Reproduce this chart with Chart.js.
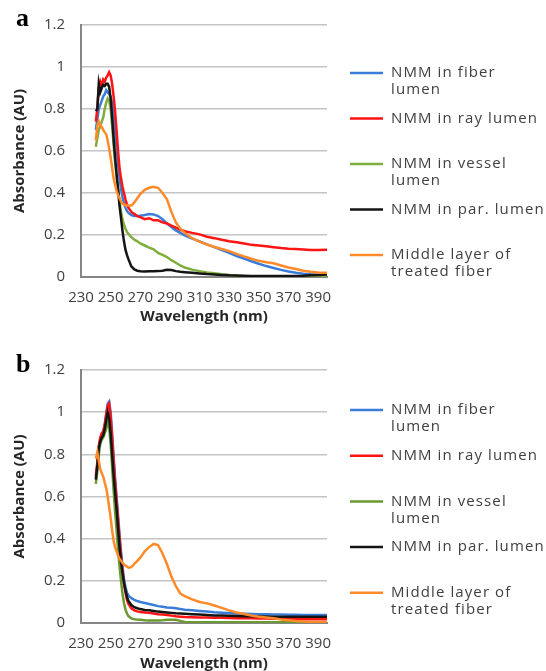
<!DOCTYPE html>
<html>
<head>
<meta charset="utf-8">
<script src="https://cdn.jsdelivr.net/npm/chart.js@4.4.1/dist/chart.umd.min.js"></script>
<style>
html, body { margin: 0; padding: 0; background: #fff; overflow: hidden; }
#wrapA { position: absolute; left: 0; top: 0; width: 546px; height: 335px; }
#wrapB { position: absolute; left: 0; top: 345px; width: 546px; height: 337px; }
</style>
</head>
<body>
<div id="wrapA"><canvas id="chartA"></canvas></div>
<div id="wrapB"><canvas id="chartB"></canvas></div>
<script>
const wavelength = [240, 241, 242, 243, 244, 245, 246, 247, 248, 249, 250, 251, 252, 253, 254, 255, 256, 257, 258, 259, 260, 261, 262,
    264, 266, 268, 270,
    273, 276, 279, 282, 285, 288, 291, 294, 297, 300,
    305, 310, 315, 320, 325, 330, 335, 340, 345, 350, 355, 360, 365, 370, 375, 380, 385, 390,
    396]
const xTicks = [230, 250, 270, 290, 310, 330, 350, 370, 390]
const yTicks = [0, 0.2, 0.4, 0.6, 0.8, 1, 1.2]

const seriesNames = ['NMM in fiber lumen', 'NMM in ray lumen', 'NMM in vessel lumen', 'NMM in par. lumen', 'Middle layer of treated fiber']
const legendLines = [['NMM in fiber', 'lumen'], ['NMM in ray lumen'], ['NMM in vessel', 'lumen'], ['NMM in par. lumen'], ['Middle layer of', 'treated fiber']]

// panel a
const fiberA = [0.70, 0.75, 0.80, 0.82, 0.84, 0.86, 0.87, 0.89, 0.88, 0.87, 0.86, 0.83, 0.77, 0.70, 0.62, 0.54, 0.47, 0.42, 0.38, 0.35, 0.33, 0.315, 0.305,
    0.295, 0.29, 0.29, 0.292,
    0.295, 0.30, 0.298, 0.29, 0.275, 0.255, 0.238, 0.222, 0.21, 0.198,
    0.183, 0.17, 0.155, 0.142, 0.128, 0.115, 0.10, 0.088, 0.075, 0.063, 0.052, 0.043, 0.034, 0.026, 0.02, 0.016, 0.013, 0.011,
    0.01]
const rayA = [0.74, 0.80, 0.90, 0.93, 0.91, 0.94, 0.93, 0.95, 0.96, 0.975, 0.96, 0.92, 0.86, 0.79, 0.70, 0.60, 0.52, 0.47, 0.43, 0.40, 0.37, 0.345, 0.33,
    0.31, 0.30, 0.29, 0.285,
    0.275, 0.28, 0.27, 0.27, 0.26, 0.255, 0.245, 0.235, 0.225, 0.218,
    0.21, 0.203, 0.192, 0.185, 0.177, 0.17, 0.165, 0.16, 0.153, 0.15, 0.146, 0.142, 0.138, 0.135, 0.133, 0.131, 0.129, 0.128,
    0.13]
const vesselA = [0.62, 0.66, 0.70, 0.72, 0.74, 0.76, 0.80, 0.83, 0.85, 0.84, 0.80, 0.72, 0.63, 0.55, 0.48, 0.42, 0.36, 0.31, 0.275, 0.25, 0.23, 0.215, 0.205,
    0.19, 0.178, 0.17, 0.16,
    0.15, 0.14, 0.132, 0.115, 0.105, 0.095, 0.08, 0.068, 0.055, 0.045,
    0.035, 0.028, 0.022, 0.018, 0.013, 0.01, 0.006, 0.004, 0.003, 0.003, 0.003, 0.003, 0.003, 0.003, 0.003, 0.003, 0.003, 0.003,
    0.003]
const parA = [0.79, 0.80, 0.92, 0.88, 0.90, 0.915, 0.91, 0.92, 0.92, 0.905, 0.85, 0.76, 0.66, 0.57, 0.49, 0.42, 0.34, 0.28, 0.22, 0.17, 0.13, 0.105, 0.085,
    0.05, 0.036, 0.03, 0.027,
    0.026, 0.027, 0.027, 0.028, 0.03, 0.034, 0.033, 0.028, 0.025, 0.023,
    0.02, 0.017, 0.014, 0.012, 0.01, 0.008, 0.007, 0.006, 0.005, 0.005, 0.005, 0.005, 0.005, 0.005, 0.005, 0.006, 0.008, 0.01,
    0.012]
const middleA = [0.65, 0.72, 0.74, 0.72, 0.715, 0.70, 0.69, 0.68, 0.65, 0.61, 0.57, 0.52, 0.47, 0.44, 0.41, 0.39, 0.375, 0.36, 0.35, 0.345, 0.34, 0.34, 0.34,
    0.34, 0.355, 0.375, 0.395,
    0.415, 0.425, 0.43, 0.425, 0.40, 0.37, 0.31, 0.26, 0.23, 0.21,
    0.185, 0.168, 0.155, 0.143, 0.133, 0.123, 0.11, 0.098, 0.087, 0.077, 0.07, 0.065, 0.055, 0.045, 0.038, 0.03, 0.025, 0.021,
    0.02]

// panel b
const fiberB = [0.69, 0.75, 0.83, 0.87, 0.89, 0.90, 0.94, 0.99, 1.04, 1.05, 1.0, 0.90, 0.79, 0.69, 0.60, 0.51, 0.42, 0.34, 0.27, 0.21, 0.17, 0.145, 0.13,
    0.118, 0.11, 0.104, 0.10,
    0.095, 0.09, 0.085, 0.08, 0.077, 0.074, 0.072, 0.07, 0.066, 0.063,
    0.06, 0.057, 0.054, 0.051, 0.049, 0.047, 0.045, 0.044, 0.043, 0.042, 0.041, 0.04, 0.04, 0.039, 0.039, 0.038, 0.038, 0.038,
    0.038]
const rayB = [0.70, 0.76, 0.84, 0.88, 0.90, 0.91, 0.94, 0.99, 1.03, 1.04, 0.98, 0.88, 0.77, 0.67, 0.58, 0.49, 0.40, 0.32, 0.25, 0.19, 0.145, 0.11, 0.09,
    0.07, 0.06, 0.055, 0.052,
    0.05, 0.048, 0.045, 0.042, 0.04, 0.038, 0.035, 0.032, 0.03, 0.028,
    0.027, 0.026, 0.026, 0.025, 0.025, 0.024, 0.023, 0.022, 0.022, 0.021, 0.021, 0.02, 0.02, 0.019, 0.019, 0.018, 0.018, 0.018,
    0.018]
const vesselB = [0.66, 0.72, 0.80, 0.85, 0.87, 0.88, 0.90, 0.92, 0.95, 0.93, 0.85, 0.74, 0.63, 0.53, 0.44, 0.35, 0.27, 0.20, 0.14, 0.095, 0.065, 0.045, 0.033,
    0.022, 0.018, 0.016, 0.015,
    0.013, 0.012, 0.012, 0.012, 0.013, 0.015, 0.016, 0.015, 0.01, 0.005,
    0.003, 0.003, 0.003, 0.003, 0.003, 0.003, 0.003, 0.003, 0.003, 0.003, 0.003, 0.003, 0.003, 0.003, 0.003, 0.003, 0.003, 0.003,
    0.003]
const parB = [0.68, 0.74, 0.83, 0.86, 0.88, 0.89, 0.92, 0.96, 1.0, 0.97, 0.90, 0.80, 0.70, 0.62, 0.54, 0.45, 0.36, 0.29, 0.235, 0.19, 0.155, 0.125, 0.105,
    0.085, 0.075, 0.07, 0.066,
    0.062, 0.06, 0.057, 0.054, 0.052, 0.05, 0.048, 0.046, 0.045, 0.044,
    0.042, 0.04, 0.038, 0.036, 0.035, 0.034, 0.033, 0.032, 0.032, 0.031, 0.031, 0.03, 0.03, 0.03, 0.03, 0.03, 0.03, 0.03,
    0.03]
const middleB = [0.78, 0.81, 0.77, 0.73, 0.71, 0.695, 0.665, 0.64, 0.60, 0.55, 0.50, 0.44, 0.39, 0.36, 0.34, 0.32, 0.305, 0.295, 0.285, 0.278, 0.272, 0.268, 0.262,
    0.265, 0.28, 0.295, 0.31,
    0.34, 0.36, 0.375, 0.37, 0.33, 0.28, 0.22, 0.175, 0.14, 0.128,
    0.112, 0.10, 0.093, 0.083, 0.072, 0.06, 0.05, 0.043, 0.036, 0.03, 0.026, 0.022, 0.017, 0.013, 0.009, 0.007, 0.005, 0.005,
    0.005]

Chart.defaults.font.family = "'Open Sans', sans-serif"

const sideLegend = {
    id: 'sideLegend',
    afterDraw(chart, args, opts) {
        const ctx = chart.ctx
        ctx.save()
        ctx.textBaseline = 'middle'
        chart.data.datasets.forEach((ds, i) => {
            const y = opts.top + i * opts.step
            ctx.strokeStyle = ds.borderColor
            ctx.lineWidth = 2.5
            ctx.beginPath()
            ctx.moveTo(350, y)
            ctx.lineTo(383, y)
            ctx.stroke()
            ctx.fillStyle = '#404040'
            ctx.font = "15px 'Open Sans'"
            ctx.letterSpacing = '1.1px'
            legendLines[i].forEach((t, k) => ctx.fillText(t, 391, y + k * 17))
        })
        ctx.letterSpacing = '0px'
        ctx.fillStyle = '#000'
        ctx.font = "bold 26px 'Liberation Serif'"
        ctx.fillText(opts.letter, 16, opts.letterY)
        ctx.restore()
    }
}

const makeChart = (id, values, colors, cfg) => {
    const ctx = document.getElementById(id).getContext('2d')
    return new Chart(ctx, {
        type: 'line',
        data: {
            datasets: values.map((v, i) => ({
                label: seriesNames[i],
                data: v.map((y, k) => ({ x: wavelength[k], y: y })),
                borderColor: colors[i],
                borderWidth: 2.5,
                pointRadius: 0,
                tension: 0,
                fill: false,
                order: values.length - i
            }))
        },
        options: {
            responsive: true,
            maintainAspectRatio: false,
            animation: false,
            layout: { padding: { left: 0, right: 219, top: 19, bottom: 0 } },
            plugins: {
                legend: { display: false },
                tooltip: { enabled: false },
                sideLegend: { top: cfg.legendTop, step: cfg.legendStep, letter: cfg.letter, letterY: cfg.letterY }
            },
            scales: {
                x: {
                    type: 'linear',
                    min: 230,
                    max: 396,
                    afterBuildTicks: (scale) => { scale.ticks = xTicks.map(v => ({ value: v })) },
                    afterFit: (scale) => { scale.height = cfg.xHeight },
                    grid: { display: false },
                    border: { display: true, color: '#868686', width: 2 },
                    ticks: { autoSkip: false, maxRotation: 0, padding: 4, color: '#404040', font: { size: 15 } },
                    title: { display: true, text: 'Wavelength (nm)', color: '#262626', font: { size: 15, weight: 'bold' }, padding: { top: 0, bottom: 9 } }
                },
                y: {
                    min: 0,
                    max: 1.2,
                    afterBuildTicks: (scale) => { scale.ticks = yTicks.map(v => ({ value: v })) },
                    afterFit: (scale) => { scale.width = 81 },
                    grid: { color: '#c4c4c4', lineWidth: 1.5, drawTicks: false },
                    border: { display: true, color: '#868686', width: 2 },
                    ticks: { padding: 16, color: '#404040', font: { size: 15 }, callback: (v) => String(parseFloat(v.toFixed(1))) },
                    title: { display: true, text: 'Absorbance (AU)', color: '#262626', font: { size: 15, weight: 'bold' }, padding: { top: 11, bottom: 0 } }
                }
            }
        },
        plugins: [sideLegend]
    })
}

makeChart('chartA', [fiberA, rayA, vesselA, parA, middleA],
    ['#3a7dd8', '#ff1414', '#80ae3c', '#141414', '#ff8a2a'],
    { xHeight: 58, legendTop: 73, legendStep: 45.5, letter: 'a', letterY: 19 })

makeChart('chartB', [fiberB, rayB, vesselB, parB, middleB],
    ['#3a7dd8', '#ff1414', '#6a9a30', '#141414', '#ff8a2a'],
    { xHeight: 59, legendTop: 65, legendStep: 45.7, letter: 'b', letterY: 20 })
</script>
</body>
</html>
